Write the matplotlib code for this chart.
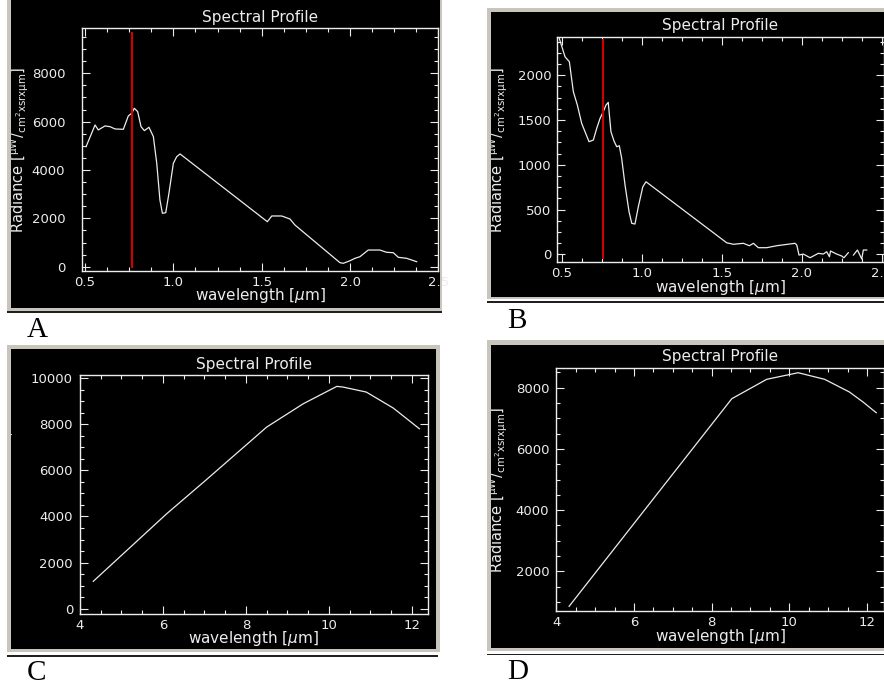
import numpy as np
import matplotlib
matplotlib.use('Agg')
from matplotlib import pyplot as plt
from matplotlib.patches import Rectangle
from matplotlib.ticker import MultipleLocator, AutoMinorLocator

W, H = 884, 684

# panel A: VNIR/SWIR profile with marker line
a_wl = [0.506, 0.557, 0.575, 0.613, 0.641, 0.670, 0.717, 0.745, 0.764, 0.779, 0.798,
        0.817, 0.836, 0.862, 0.887, 0.906, 0.924, 0.938, 0.957, 0.975, 1.000, 1.019,
        1.038, 1.532, 1.557, 1.613, 1.660, 1.688, 1.943, 1.962, 2.000, 2.028, 2.056,
        2.103, 2.169, 2.207, 2.245, 2.273, 2.320, 2.377]
a_rad = [4965, 5862, 5656, 5821, 5793, 5697, 5683, 6235, 6346, 6553, 6415,
         5793, 5627, 5766, 5379, 4278, 2760, 2209, 2234, 3037, 4278, 4551,
         4663, 1862, 2098, 2098, 1973, 1725, 166, 141, 248, 348, 414,
         690, 690, 596, 579, 389, 348, 207]
a_marker = 0.768
a_marker_span = (0, 9680)

# panel B: VNIR/SWIR profile, low radiance
b_wl = [0.485, 0.521, 0.548, 0.573, 0.598, 0.625, 0.646, 0.671, 0.698, 0.719, 0.740,
        0.760, 0.777, 0.791, 0.808, 0.827, 0.844, 0.860, 0.875, 0.896, 0.921, 0.938,
        0.958, 0.979, 1.007, 1.027, 1.531, 1.573, 1.635, 1.673, 1.698, 1.729, 1.781,
        1.844, 1.958, 1.969, 1.983, 2.010, 2.052, 2.104, 2.135, 2.156, 2.173, 2.180,
        2.218, 2.250, 2.264, 2.291, 2.300, 2.323, 2.348, 2.375, 2.385, 2.406]
b_rad = [2411, 2205, 2150, 1815, 1666, 1462, 1368, 1257, 1276, 1406, 1518,
         1592, 1666, 1696, 1368, 1265, 1201, 1212, 1071, 773, 475, 346,
         338, 531, 754, 810, 129, 112, 123, 96, 123, 74, 74,
         96, 123, 104, -8, 3, -38, 11, 3, 29, -27, 37,
         3, -19, -38, 18, np.nan, -8, 48, -52, 48, 48]
b_marker = 0.756
b_marker_span = (-40, 2390)

# panel C: TIR profile
c_wl = [4.32, 6.09, 7.0, 8.5, 9.38, 10.19, 10.34, 10.9, 11.55, 12.18]
c_rad = [1188, 4118, 5522, 7876, 8886, 9640, 9610, 9393, 8700, 7802]

# panel D: TIR profile
d_wl = [4.33, 8.52, 9.42, 10.23, 10.91, 11.55, 11.9, 12.24]
d_rad = [856, 7641, 8275, 8490, 8275, 7859, 7533, 7183]

TITLE = 'Spectral Profile'
XLABEL = r'wavelength [$\mu$m]'
YLABEL = r'Radiance [$\mathregular{^{\mu W}/_{cm^{2} x sr x \mu m}}$]'

FG = '#ececec'
GRAY = '#c9c5bd'


def rect(x0, y0, x1, y1, color, z):
    return Rectangle((x0 / W, 1 - y1 / H), (x1 - x0) / W, (y1 - y0) / H,
                     transform=fig.transFigure, facecolor=color, edgecolor='none', zorder=z)


def draw_panel(p):
    fig.add_artist(rect(*p['frame'], GRAY, -3))
    black = fig.add_artist(rect(*p['black'], 'black', -2))
    x0, y0, x1, y1 = p['box']
    ax = fig.add_axes([x0 / W, 1 - y1 / H, (x1 - x0) / W, (y1 - y0) / H])
    ax.set_facecolor('black')
    ax.plot(p['wl'], p['rad'], color=FG, lw=0.9)
    if p.get('marker') is not None:
        ax.plot([p['marker']] * 2, p['span'], color='#d00000', lw=1.5)
    ax.set_xlim(*p['xlim'])
    ax.set_ylim(*p['ylim'])
    ax.xaxis.set_major_locator(MultipleLocator(p['xmaj']))
    ax.yaxis.set_major_locator(MultipleLocator(p['ymaj']))
    ax.xaxis.set_minor_locator(AutoMinorLocator(4))
    ax.yaxis.set_minor_locator(AutoMinorLocator(4))
    ax.xaxis.set_major_formatter(p['xfmt'])
    ax.tick_params(which='both', direction='in', top=True, right=True, colors=FG,
                   labelcolor=FG, labelsize=9.5, width=0.8)
    ax.tick_params(which='major', length=5.5)
    ax.tick_params(which='minor', length=3)
    ax.tick_params(axis='x', pad=3.5)
    ax.tick_params(axis='y', pad=p['ypad'])
    for s in ax.spines.values():
        s.set_color(FG)
        s.set_linewidth(1.0)
    cx = (x0 + x1) / 2
    fig.text(cx / W, 1 - (y0 - 11) / H, TITLE, color=FG, fontsize=11, ha='center', va='center')
    fig.text(cx / W, 1 - (y1 + 25) / H, XLABEL, color=FG, fontsize=11, ha='center', va='center')
    yl = fig.text(p['ylx'] / W, 1 - (y0 + y1) / 2 / H, YLABEL, color=FG, fontsize=10.5,
                  rotation=90, ha='center', va='center')
    yl.set_clip_path(black)
    lx, ly = p['letter_at']
    fig.text(lx / W, 1 - ly / H, p['letter'], fontsize=21, family='Liberation Serif',
             color='black', ha='left', va='baseline')
    bx0, by, bx1 = p['rule']
    fig.add_artist(rect(bx0, by, bx1, by + 1.5, '#202020', -1))
    return ax


fig = plt.figure(figsize=(W / 100, H / 100), dpi=100)
fig.patch.set_facecolor('white')

panels = [
    dict(frame=(7, -5, 442, 311), black=(11, -5, 440, 307.5), box=(82, 28.3, 438.4, 270.7),
         wl=a_wl, rad=a_rad, marker=a_marker, span=a_marker_span,
         xlim=(0.483, 2.5), ylim=(-165, 9860), xmaj=0.5, ymaj=2000, xfmt='{x:.1f}',
         ypad=12, ylx=19.5, letter='A', letter_at=(27, 337), rule=(7, 311, 442)),
    dict(frame=(487, 8.5, 890, 299), black=(490.5, 11.5, 890, 296.5), box=(556.7, 36.7, 884, 262.3),
         wl=b_wl, rad=b_rad, marker=b_marker, span=b_marker_span,
         xlim=(0.469, 2.514), ylim=(-89, 2429), xmaj=0.5, ymaj=500, xfmt='{x:.1f}',
         ypad=4, ylx=498.5, letter='B', letter_at=(507, 328), rule=(487, 301, 884)),
    dict(frame=(7, 345, 440, 652), black=(11, 349, 436, 648.5), box=(80, 375.3, 427.7, 613.7),
         wl=c_wl, rad=c_rad,
         xlim=(4.0, 12.38), ylim=(-217, 10120), xmaj=2, ymaj=2000, xfmt='{x:.0f}',
         ypad=5, ylx=4, letter='C', letter_at=(27, 680), rule=(7, 655, 438)),
    dict(frame=(487, 340, 890, 651), black=(490.5, 345, 890, 647.5), box=(556.3, 367.7, 884, 611.3),
         wl=d_wl, rad=d_rad,
         xlim=(4.0, 12.44), ylim=(693, 8654), xmaj=2, ymaj=2000, xfmt='{x:.0f}',
         ypad=5, ylx=498.5, letter='D', letter_at=(507, 679), rule=(487, 653.5, 884)),
]

for p in panels:
    draw_panel(p)

fig.savefig('out.png', dpi=100, facecolor='white')
